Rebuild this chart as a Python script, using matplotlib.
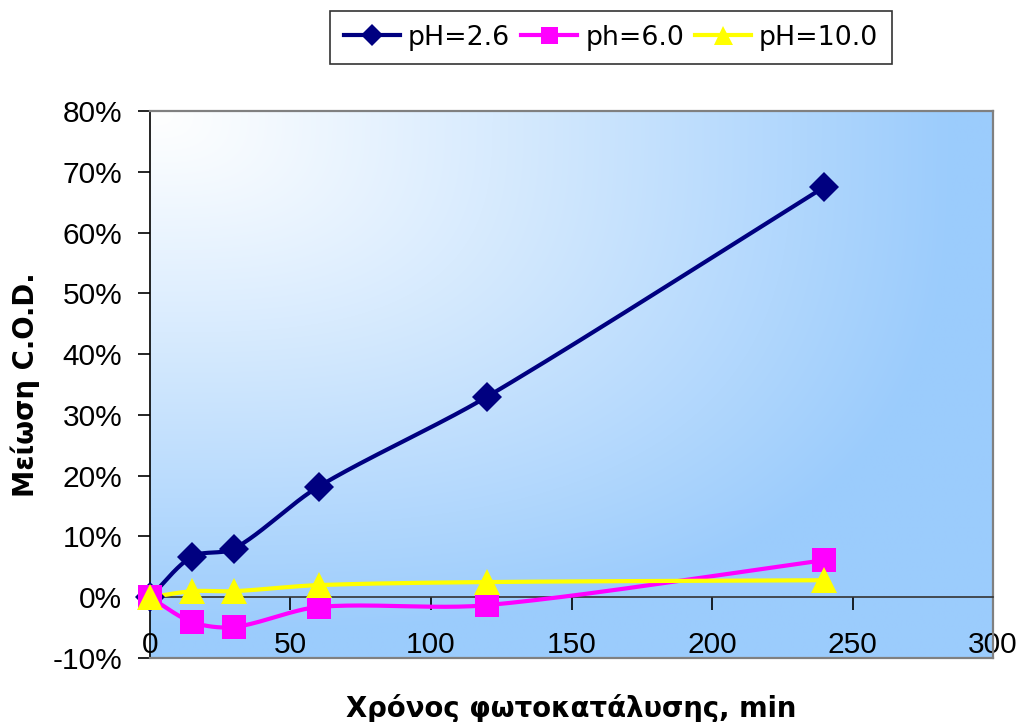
import numpy as np
import matplotlib
matplotlib.use("Agg")
import matplotlib.pyplot as plt
from matplotlib.ticker import FuncFormatter

# Reaction time (min) and C.O.D. reduction for each pH
time_min = [0, 15, 30, 60, 120, 240]
cod_ph26 = [0.0, 0.067, 0.080, 0.182, 0.330, 0.675]
cod_ph60 = [0.0, -0.041, -0.049, -0.016, -0.013, 0.061]
cod_ph100 = [0.0, 0.010, 0.010, 0.020, 0.025, 0.028]

series_labels = ["pH=2.6", "ph=6.0", "pH=10.0"]
x_ticks = [0, 50, 100, 150, 200, 250, 300]
y_ticks = [-0.10, 0.0, 0.10, 0.20, 0.30, 0.40, 0.50, 0.60, 0.70, 0.80]

X_MIN, X_MAX = 0, 300
Y_MIN, Y_MAX = -0.10, 0.80


def smooth_curve(xs, ys, sx, sy, k=0.3, n=40):
    """Smoothed polyline through the points; tangent handles scale with segment length."""
    px = np.asarray(xs, float) / sx
    py = np.asarray(ys, float) / sy
    pts = np.column_stack([px, py])
    m = len(pts)

    def direction(i):
        a = pts[i - 1] if i > 0 else pts[i]
        b = pts[i + 1] if i + 1 < m else pts[i]
        d = b - a
        nrm = np.hypot(*d)
        return d / nrm if nrm > 0 else d

    out = [pts[0]]
    for i in range(m - 1):
        p1, p2 = pts[i], pts[i + 1]
        L = np.hypot(*(p2 - p1))
        c1 = p1 + direction(i) * L * k
        c2 = p2 - direction(i + 1) * L * k
        t = np.linspace(0, 1, n)[1:, None]
        seg = ((1 - t) ** 3) * p1 + 3 * ((1 - t) ** 2) * t * c1 \
            + 3 * (1 - t) * t ** 2 * c2 + t ** 3 * p2
        out.extend(seg)
    out = np.array(out)
    return out[:, 0] * sx, out[:, 1] * sy


fig = plt.figure(figsize=(10.19, 7.22), dpi=100)
ax = fig.add_axes([0.1472, 0.0886, 0.8273, 0.7577])
ax.set_xlim(X_MIN, X_MAX)
ax.set_ylim(Y_MIN, Y_MAX)

# Plot-area gradient: white in the top-left corner fading to light blue
h, w = 300, 500
gx = np.linspace(0, 1, w)[None, :]
gy = np.linspace(0, 1, h)[:, None]
t = (gx ** 3 + gy ** 3) ** (1 / 3)
t = np.clip(t / 0.95, 0, 1)
t = t ** 1.1
white = np.array([1.0, 1.0, 1.0])
blue = np.array([0.61, 0.80, 0.99])
img = white[None, None, :] * (1 - t[..., None]) + blue[None, None, :] * t[..., None]
ax.imshow(img, extent=[0, 1, 0, 1], origin="upper", transform=ax.transAxes,
          aspect="auto", zorder=0, interpolation="bilinear")

# Scale factors so smoothing behaves like it does in screen space
sx = (X_MAX - X_MIN)
sy = (Y_MAX - Y_MIN) * 843 / 546

styles = [
    (cod_ph26, "#000080", "D", 15),
    (cod_ph60, "#FF00FF", "s", 17),
    (cod_ph100, "#FFFF00", "^", 19),
]
handles = []
for (vals, col, mk, ms), lab in zip(styles, series_labels):
    cx, cy = smooth_curve(time_min, vals, sx, sy)
    ax.plot(cx, cy, color=col, lw=3, zorder=3, solid_capstyle="round")
    ax.plot(time_min, vals, ls="none", marker=mk, ms=ms, color=col,
            markeredgewidth=0, zorder=4, clip_on=False)
    handles.append(plt.Line2D([], [], color=col, lw=3, marker=mk,
                              ms=ms * 0.72, markeredgewidth=0))

# Axes styling
ax.spines["left"].set_color("black")
ax.spines["left"].set_linewidth(1.2)
ax.spines["bottom"].set_position(("data", 0))
ax.spines["bottom"].set_color("#333333")
ax.spines["bottom"].set_linewidth(1.2)
for s in ("top", "right"):
    ax.spines[s].set_color("#808080")
    ax.spines[s].set_linewidth(1.6)
ax.axhline(Y_MIN, color="#808080", lw=1.6, zorder=5, clip_on=False)

ax.set_xticks(x_ticks)
ax.set_yticks(y_ticks)
ax.yaxis.set_major_formatter(FuncFormatter(lambda v, p: f"{v * 100:.0f}%"))
ax.tick_params(axis="both", direction="out", length=9, width=1.2,
               color="black", labelsize=21.5)
ax.tick_params(axis="x", pad=15)
ax.tick_params(axis="y", pad=11)
for lbl in ax.get_xticklabels() + ax.get_yticklabels():
    lbl.set_fontfamily("Liberation Sans")

fig.text(0.561, 0.019, "Χρόνος φωτοκατάλυσης, min", ha="center", va="center",
         fontsize=19.8, fontweight="bold", family="DejaVu Sans")
fig.text(0.025, 0.467, "Μείωση C.O.D.", ha="center", va="center", rotation=90,
         fontsize=19.8, fontweight="bold", family="DejaVu Sans")

leg = fig.legend(handles, series_labels, loc="center", bbox_to_anchor=(0.5996, 0.948),
                 ncol=3, frameon=True, fancybox=False,
                 handlelength=2.1, handletextpad=0.3, columnspacing=0.4,
                 borderpad=0.5, prop={"family": "DejaVu Sans", "size": 19.3})
leg.get_frame().set_edgecolor("black")
leg.get_frame().set_linewidth(1.2)

fig.savefig("out.png", dpi=100)
